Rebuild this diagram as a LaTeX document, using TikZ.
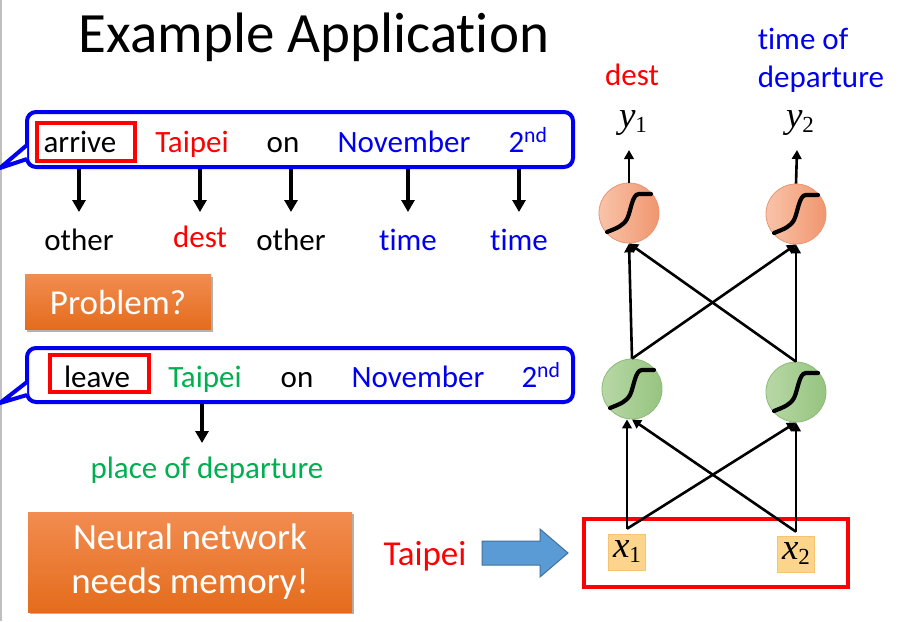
\documentclass[tikz,border=0pt]{standalone}
\usepackage{fontspec}
\setmainfont{Carlito}[Ligatures=NoCommon]
\newfontfamily\tnr{Liberation Serif}
\usetikzlibrary{arrows.meta,shadows,calc}
\definecolor{pblue}{RGB}{0,0,240}
\definecolor{pred}{RGB}{255,0,0}
\definecolor{pgreen}{RGB}{0,176,80}
\definecolor{orgA}{RGB}{242,140,80}
\definecolor{orgB}{RGB}{228,108,28}
\definecolor{salA}{RGB}{249,196,170}
\definecolor{salB}{RGB}{240,150,110}
\definecolor{salE}{RGB}{232,150,115}
\definecolor{grnA}{RGB}{184,216,166}
\definecolor{grnB}{RGB}{150,196,128}
\definecolor{grnE}{RGB}{140,186,120}
\definecolor{xfill}{RGB}{253,212,140}
\definecolor{xedge}{RGB}{246,196,110}
\definecolor{barrow}{RGB}{91,155,213}
\definecolor{barrowE}{RGB}{65,113,156}
\newcommand{\wsize}{\fontsize{31}{34}\selectfont}
\newcommand{\mvar}[2]{{\tnr\fontsize{37}{37}\selectfont\textit{#1}\raisebox{-5pt}{\fontsize{23}{23}\selectfont #2}}}
\tikzset{
  word/.style={font=\wsize, anchor=base, inner sep=0pt},
  bubble/.style={draw=pblue, line width=4pt, rounded corners=9pt, fill=white,
    minimum width=546pt, minimum height=55pt, inner sep=0pt},
  wbox/.style={draw=pred, line width=3.5pt, inner sep=0pt},
  arr/.style={line width=3.3pt, -{Triangle[width=13pt,length=12pt]}},
  narr/.style={line width=2.6pt, -{Triangle[width=9.5pt,length=9pt]}},
  obox/.style={top color=orgA, bottom color=orgB, draw=none, text=white,
    drop shadow={shadow xshift=2pt, shadow yshift=-2pt, opacity=0.3, fill=black}},
  ocirc/.style={circle, minimum size=60pt, inner sep=0pt, left color=salA, right color=salB, draw=salE, line width=0.8pt},
  gcirc/.style={circle, minimum size=60pt, inner sep=0pt, left color=grnA, right color=grnB, draw=grnE, line width=0.8pt},
  xbox/.style={fill=xfill, draw=xedge, line width=0.6pt, minimum width=37pt, minimum height=36pt, inner sep=0pt},
  sigmoid/.pic={\draw[line width=4.2pt, line cap=round] (-22,19) .. controls (-12,15) and (-6,13) .. (-2,6) .. controls (2,-2) and (3,-19) .. (10,-19) -- (22,-19);}
}
\begin{document}
\begin{tikzpicture}[x=1pt,y=-1pt]
\useasboundingbox[fill=white] (0,0) rectangle (899,621);
\draw[black!25, line width=1.5pt] (1,0) -- (1,621);

% title
\node[anchor=base, inner sep=0pt, font=\fontsize{57}{60}\selectfont] (title) at (314,52) {Example Application};

% bubble 1
\node[bubble] (bubA) at (300,139.5) {};
\draw[pblue, line width=4pt, fill=white, line join=round]
  ($(bubA.south west)+(2,-24)$) -- ($(bubA.south west)+(-25,-1)$) -- ($(bubA.south west)+(2,-10)$);
\node[wbox, minimum width=98pt, minimum height=38pt] (boxA) at (86,142) {};
\node[word] (arrive) at (80,152) {arrive};
\node[word, text=pred] (taipeiA) at (192,152) {Taipei};
\node[word] (onA) at (283,152) {on};
\node[word, text=pblue] (novA) at (404,152) {November};
\node[word, text=pblue] (ndA) at (528,152) {2\textsuperscript{nd}};

\coordinate (tipA) at (0,212);
\node[word] (l1) at (79,250) {other};
\node[word, text=pred] (l2) at (200,247) {dest};
\node[word] (l3) at (291,250) {other};
\node[word, text=pblue] (l4) at (408,250) {time};
\node[word, text=pblue] (l5) at (519,250) {time};
\foreach \n in {l1,l2,l3,l4,l5}
  \draw[arr] (\n.north |- bubA.south) -- (\n.north |- tipA);

% problem box
\node[obox, minimum width=186pt, minimum height=55pt, inner sep=0pt, font=\fontsize{35}{38}\selectfont] (prob) at (118,302) {Problem?};

% bubble 2
\node[bubble, minimum height=54pt] (bubB) at (300,375) {};
\draw[pblue, line width=4pt, fill=white, line join=round]
  ($(bubB.south west)+(2,-22)$) -- ($(bubB.south west)+(-25,-1)$) -- ($(bubB.south west)+(2,-9)$);
\node[wbox, minimum width=99pt, minimum height=37pt] (boxB) at (99.5,373.5) {};
\node[word] (leave) at (97,387) {leave};
\node[word, text=pgreen] (taipeiB) at (205,387) {Taipei};
\node[word] (onB) at (297,387) {on};
\node[word, text=pblue] (novB) at (418,387) {November};
\node[word, text=pblue] (ndB) at (541,387) {2\textsuperscript{nd}};
\coordinate (tipB) at (0,443);
\node[word, text=pgreen] (pod) at (207,478) {place of departure};
\draw[arr] ($(taipeiB.south |- bubB.south)+(-3,0)$) -- ($(taipeiB.south |- tipB)+(-3,0)$);

% memory box
\node[obox, minimum width=324pt, minimum height=100pt, inner sep=0pt, align=center,
  font=\fontsize{37}{44}\selectfont] (mem) at (190,562) {Neural network\\needs memory!};

% Taipei input
\node[word, text=pred, font=\fontsize{35}{38}\selectfont] (taipeiC) at (425,565) {Taipei};
\draw[fill=barrow, draw=barrowE, line width=1pt, line join=miter]
  (482,541) -- (540,541) -- (540,529) -- (568,553) -- (540,577) -- (540,565) -- (482,565) -- cycle;

% network
\node[draw=pred, line width=3.8pt, minimum width=264pt, minimum height=68pt, inner sep=0pt] (inbox) at (716,553) {};
\node[xbox] (x1) at (627,552) {\mvar{x}{1}};
\node[xbox] (x2) at (796,554) {\mvar{x}{2}};
\node[gcirc] (h1) at (632,389) {};
\node[gcirc] (h2) at (796,392) {};
\node[ocirc] (o1) at (629,213) {};
\node[ocirc] (o2) at (796,214) {};
\pic at (h1) {sigmoid};
\pic at (h2) {sigmoid};
\pic at (o1) {sigmoid};
\pic at (o2) {sigmoid};

\coordinate (x1t) at ([yshift=5pt]x1.north);
\coordinate (x2t) at ([yshift=4pt]x2.north);
\draw[narr] (x1t) -- (x1t |- h1.south);
\draw[narr] (x1t) -- (h2.south);
\draw[narr] (x2t) -- (x2t |- h2.south);
\draw[narr] (x2t) -- (h1.south);

\draw[narr] (h1.north) -- (o1.south);
\draw[narr] (h1.north) -- (o2.south);
\draw[narr] (h2.north) -- (o2.south);
\draw[narr] (h2.north) -- (o1.south);

\node[anchor=base, inner sep=0pt] (y1) at (633,127) {\mvar{y}{1}};
\node[anchor=base, inner sep=0pt] (y2) at (800,127) {\mvar{y}{2}};
\coordinate (y1a) at (629,150);
\coordinate (y2a) at (797,150);
\draw[narr] (o1.north) -- (y1a);
\draw[narr] (o2.north) -- (y2a);

\node[word, text=pred] (dest) at (632,85) {dest};
\node[word, text=pblue] (tod1) at (803,49) {time of};
\node[word, text=pblue] (tod2) at (821,87) {departure};
\end{tikzpicture}
\end{document}
